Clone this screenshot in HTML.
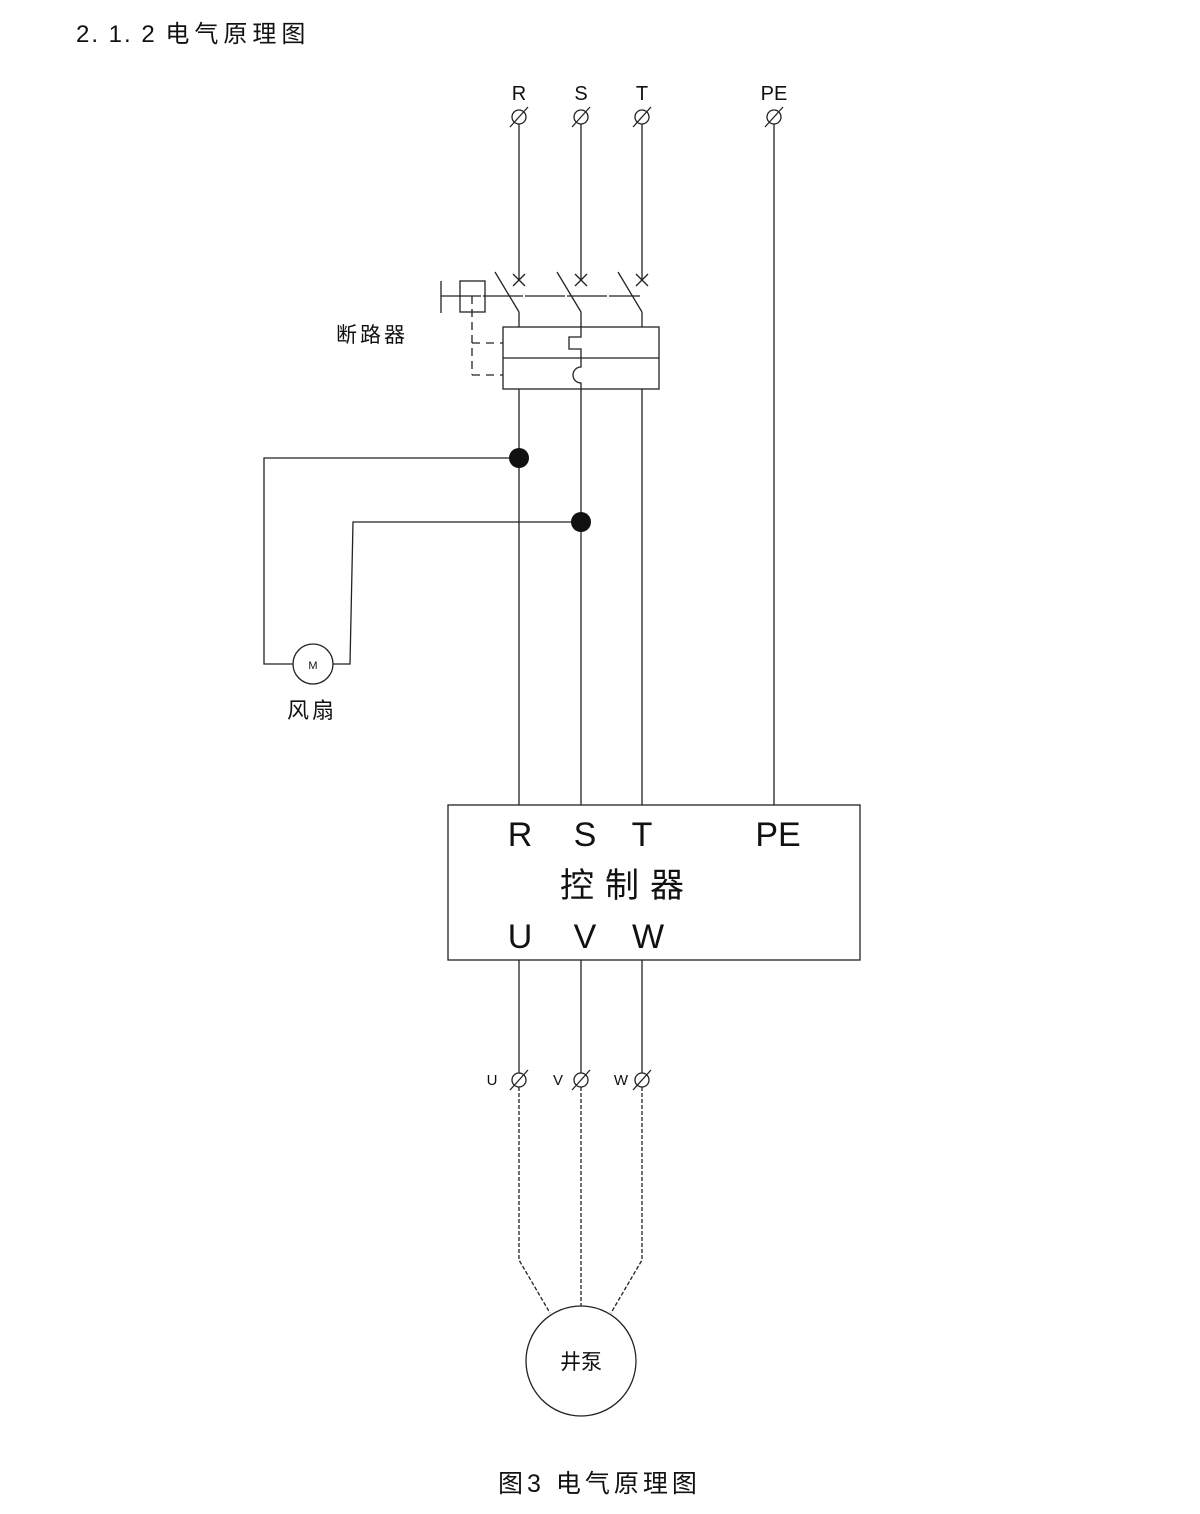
<!DOCTYPE html>
<html><head><meta charset="utf-8"><style>
body{margin:0;background:#fff;}
svg{display:block}
text{font-family:"Liberation Sans","Noto Sans CJK SC",sans-serif;fill:#111}
</style></head><body>
<svg width="1200" height="1514" viewBox="0 0 1200 1514" xmlns="http://www.w3.org/2000/svg">
<text x="76" y="42" font-size="24" letter-spacing="2">2. 1. 2 <tspan letter-spacing="5">电气原理图</tspan></text>
<g stroke="#222" stroke-width="1.3" fill="none">
<g>
<circle cx="519" cy="117" r="7"/><line x1="510" y1="127" x2="528" y2="107"/>
<circle cx="581" cy="117" r="7"/><line x1="572" y1="127" x2="590" y2="107"/>
<circle cx="642" cy="117" r="7"/><line x1="633" y1="127" x2="651" y2="107"/>
<circle cx="774" cy="117" r="7"/><line x1="765" y1="127" x2="783" y2="107"/>
</g>
<line x1="519" y1="124" x2="519" y2="280"/>
<line x1="581" y1="124" x2="581" y2="280"/>
<line x1="642" y1="124" x2="642" y2="280"/>
<line x1="774" y1="124" x2="774" y2="805"/>
<path d="M513 274l12 12M525 274l-12 12M575 274l12 12M587 274l-12 12M636 274l12 12M648 274l-12 12"/>
<line x1="495" y1="272" x2="519" y2="312"/>
<line x1="557" y1="272" x2="581" y2="312"/>
<line x1="618" y1="272" x2="642" y2="312"/>
<line x1="519" y1="312" x2="519" y2="327"/>
<line x1="642" y1="312" x2="642" y2="327"/>
<line x1="581" y1="312" x2="581" y2="327"/>
<line x1="441" y1="281" x2="441" y2="313"/>
<line x1="441" y1="296" x2="640" y2="296" stroke-dasharray="40 2"/>
<rect x="460" y="281" width="25" height="31"/>
<path d="M472 296V375" stroke-dasharray="8 5"/>
<path d="M472 343H503M472 375H503" stroke-dasharray="8 6"/>
<rect x="503" y="327" width="156" height="62"/>
<line x1="503" y1="358" x2="659" y2="358"/>
<path d="M581 327V337H569V349H581V367A8 8 0 0 0 581 383V389"/>
<line x1="519" y1="389" x2="519" y2="805"/>
<line x1="581" y1="389" x2="581" y2="805"/>
<line x1="642" y1="389" x2="642" y2="805"/>
<path d="M519 458H264V664H293"/>
<path d="M581 522H353L350 664H333"/>
<circle cx="313" cy="664" r="20"/>
<rect x="448" y="805" width="412" height="155"/>
<line x1="519" y1="960" x2="519" y2="1073"/>
<line x1="581" y1="960" x2="581" y2="1073"/>
<line x1="642" y1="960" x2="642" y2="1073"/>
<circle cx="519" cy="1080" r="7"/><line x1="510" y1="1090" x2="528" y2="1070"/>
<circle cx="581" cy="1080" r="7"/><line x1="572" y1="1090" x2="590" y2="1070"/>
<circle cx="642" cy="1080" r="7"/><line x1="633" y1="1090" x2="651" y2="1070"/>
<g stroke-dasharray="4 2">
<path d="M519 1087V1260L550 1313"/>
<path d="M581 1087V1306"/>
<path d="M642 1087V1260L611 1313"/>
</g>
<circle cx="581" cy="1361" r="55"/>
</g>
<circle cx="519" cy="458" r="10" fill="#111"/>
<circle cx="581" cy="522" r="10" fill="#111"/>
<g font-size="20" text-anchor="middle">
<text x="519" y="100">R</text><text x="581" y="100">S</text><text x="642" y="100">T</text><text x="774" y="100">PE</text>
</g>
<text x="336" y="342" font-size="21" letter-spacing="3">断路器</text>
<text x="313" y="669" font-size="11" text-anchor="middle">M</text>
<text x="287" y="718" font-size="22" letter-spacing="3">风扇</text>
<g font-size="34" text-anchor="middle">
<text x="520" y="846">R</text><text x="585" y="846">S</text><text x="642" y="846">T</text><text x="778" y="846">PE</text>
<text x="560" y="897" text-anchor="start" letter-spacing="11">控制器</text>
<text x="520" y="948">U</text><text x="585" y="948">V</text><text x="648" y="948">W</text>
</g>
<g font-size="15" text-anchor="middle">
<text x="492" y="1085">U</text><text x="558" y="1085">V</text><text x="621" y="1085">W</text>
</g>
<text x="581" y="1369" font-size="21" text-anchor="middle">井泵</text>
<text x="498" y="1492" font-size="25" letter-spacing="4">图3 电气原理图</text>
</svg>
</body></html>
